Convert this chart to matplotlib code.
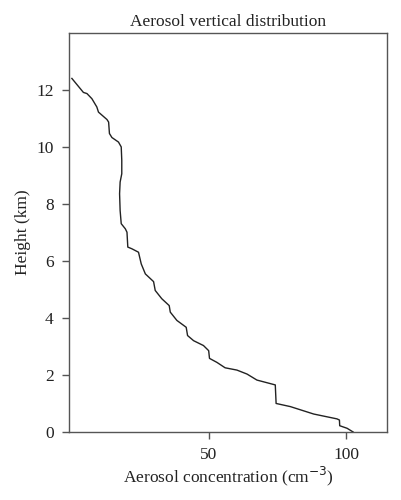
import matplotlib.pyplot as plt

plt.rcParams['font.family'] = ['Liberation Serif', 'DejaVu Serif']

# Aerosol concentration (cm^-3) vs height (km)
conc = [0.0, 4.2, 5.5, 7.3, 9.1, 9.7, 12.8, 13.4, 13.7, 14.6, 17.0, 18.0,
        18.2, 18.2, 17.6, 17.4, 17.6, 18.0, 19.5, 20.1, 20.4, 21.9, 24.3,
        25.3, 26.8, 29.8, 30.4, 32.8, 35.5, 35.9, 38.3, 41.7, 42.2, 44.4,
        48.0, 49.9, 50.2, 52.9, 55.9, 60.2, 63.9, 67.5, 74.2, 74.5, 79.7,
        88.2, 96.7, 97.6, 97.7, 100.4, 102.6]
height = [12.39, 11.9, 11.86, 11.68, 11.39, 11.21, 10.95, 10.86, 10.46,
          10.32, 10.16, 9.99, 9.52, 9.05, 8.76, 8.35, 7.76, 7.30, 7.12, 7.0,
          6.48, 6.42, 6.30, 5.89, 5.54, 5.27, 4.96, 4.67, 4.43, 4.20, 3.91,
          3.67, 3.38, 3.20, 3.03, 2.85, 2.58, 2.44, 2.25, 2.17, 2.03, 1.82,
          1.65, 1.00, 0.89, 0.63, 0.46, 0.42, 0.22, 0.13, 0.0]

xticks = [50, 100]
yticks = [0, 2, 4, 6, 8, 10, 12]

fig = plt.figure(figsize=(4.02, 5.0), dpi=100)
ax = fig.add_axes([0.172, 0.136, 0.791, 0.799])

ax.plot(conc, height, color='#222222', lw=1.0)

ax.set_xlim(-1, 115)
ax.set_ylim(0, 14)
ax.set_xticks(xticks)
ax.set_yticks(yticks)

for s in ax.spines.values():
    s.set_color('#555555')
    s.set_linewidth(1.0)
ax.tick_params(direction='out', length=5, width=1, colors='#555555',
               labelcolor='#222222', labelsize=12.5)
ax.tick_params(axis='x', pad=6)
ax.tick_params(axis='y', pad=6)

ax.set_title('Aerosol vertical distribution', fontsize=12.5, color='#222222', pad=5)
ax.set_xlabel('Aerosol concentration (cm$^{-3}$)', fontsize=12.5, color='#222222',
              labelpad=1)
ax.set_ylabel('Height (km)', fontsize=12.5, color='#222222', labelpad=4)

fig.savefig('out.png', dpi=100)
